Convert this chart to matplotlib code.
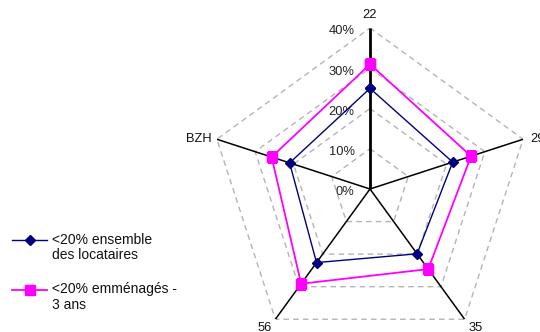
import numpy as np
import matplotlib
matplotlib.use("Agg")
import matplotlib.pyplot as plt
from matplotlib.lines import Line2D

plt.rcParams['font.family'] = ['Liberation Sans', 'DejaVu Sans']

# Data
categories = ["22", "29", "35", "56", "BZH"]
ensemble = [0.25, 0.216, 0.199, 0.226, 0.21]
emmenages = [0.31, 0.264, 0.246, 0.291, 0.257]
series_labels = ["<20% ensemble\ndes locataires", "<20% emménagés -\n3 ans"]
grid_levels = [0.1, 0.2, 0.3, 0.4]
tick_labels = ["0%", "10%", "20%", "30%", "40%"]

W, H = 540, 332
fig = plt.figure(figsize=(W / 100, H / 100), dpi=100)

cx, cy, R = 370, 189, 161
ax = fig.add_axes([(cx - R) / W, (H - cy - R) / H, 2 * R / W, 2 * R / H],
                  projection="polar")
ax.set_theta_zero_location("N")
ax.set_theta_direction(-1)
ax.set_ylim(0, 0.4)
ax.grid(False)
ax.spines["polar"].set_visible(False)
ax.set_xticks([])
ax.set_yticks([])
ax.patch.set_visible(False)

n = len(categories)
angles = np.arange(n) * 2 * np.pi / n
closed = np.concatenate([angles, angles[:1]])

# Dashed pentagon gridlines
for lvl in grid_levels:
    ax.plot(closed, [lvl] * (n + 1), color="#b4b4b4", lw=1.0,
            dashes=(4, 3), zorder=1)

# Spokes
for i, a in enumerate(angles):
    ax.plot([a, a], [0, 0.4], color="black", lw=2.0 if i == 0 else 1.1,
            zorder=2, solid_capstyle="butt")

# Series
ax.plot(closed, ensemble + ensemble[:1], color="#000080", lw=1.0,
        marker="D", markersize=5, zorder=4)
ax.plot(closed, emmenages + emmenages[:1], color="#ff00ff", lw=1.3,
        marker="s", markersize=7, zorder=3)

# Radial tick labels along the top spoke
for lvl, txt in zip([0.0] + grid_levels, tick_labels):
    ax.annotate(txt, xy=(0, lvl), xytext=(-11, -2.5), textcoords="offset points",
                ha="right", va="center", fontsize=9.3, color="#222222",
                annotation_clip=False)

# Category labels
offsets = {"22": (0, 9, "center", "center"),
           "29": (5, 0, "left", "center"),
           "35": (8, -6, "center", "center"),
           "56": (-8, -6, "center", "center"),
           "BZH": (-4, 0, "right", "center")}
for a, cat in zip(angles, categories):
    dx, dy, ha, va = offsets[cat]
    ax.annotate(cat, xy=(a, 0.4), xytext=(dx, dy), textcoords="offset points",
                ha=ha, va=va, fontsize=9.3, color="#111111",
                annotation_clip=False)

# Legend
legend_items = [
    ("#000080", "D", 5, 1.0, 240),
    ("#ff00ff", "s", 7, 1.3, 290),
]
for (col, mk, ms, lw, y), lab in zip(legend_items, series_labels):
    yf = 1 - y / H
    fig.add_artist(Line2D([12 / W, 47 / W], [yf, yf], color=col, lw=lw,
                          transform=fig.transFigure))
    fig.add_artist(Line2D([30 / W], [yf], color=col, marker=mk, markersize=ms,
                          transform=fig.transFigure))
    fig.text(52 / W, 1 - (y - 7.5) / H, lab, ha="left", va="top",
             fontsize=10, color="#111111", linespacing=1.1)

fig.savefig("out.png", dpi=100)
